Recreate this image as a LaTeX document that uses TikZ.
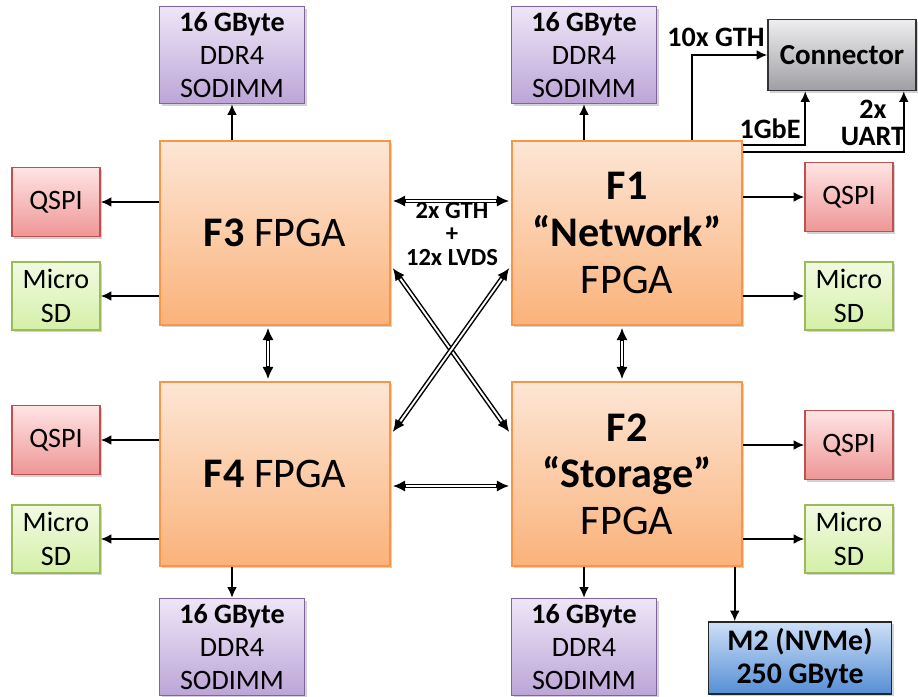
\documentclass[tikz,border=0pt]{standalone}
\usepackage{fontspec}
\setmainfont{Carlito}
\usetikzlibrary{positioning, calc, shadows, arrows.meta}
\definecolor{fpgatop}{RGB}{253,230,213}
\definecolor{fpgabot}{RGB}{250,178,122}
\definecolor{fpgaline}{RGB}{247,150,70}
\definecolor{qspitop}{RGB}{255,228,228}
\definecolor{qspibot}{RGB}{238,150,150}
\definecolor{qspiline}{RGB}{192,80,77}
\definecolor{sdtop}{RGB}{242,250,225}
\definecolor{sdbot}{RGB}{212,240,168}
\definecolor{sdline}{RGB}{155,187,89}
\definecolor{ddrtop}{RGB}{238,230,247}
\definecolor{ddrbot}{RGB}{188,165,215}
\definecolor{ddrline}{RGB}{128,100,162}
\definecolor{conntop}{RGB}{238,238,240}
\definecolor{connbot}{RGB}{158,158,164}
\definecolor{m2top}{RGB}{205,224,247}
\definecolor{m2bot}{RGB}{85,142,213}
\tikzset{
x=0.02cm, y=-0.02cm, % pixel grid of the picture
box/.style={draw, line width=0.9pt, align=center, inner sep=1pt, drop shadow={shadow xshift=1.2pt, shadow yshift=-1.2pt, opacity=0.35}}, % common look of all blocks
fpga/.style={box, draw=fpgaline, top color=fpgatop, bottom color=fpgabot, minimum width=4.6cm, minimum height=3.68cm, font=\fontsize{24}{26.5}\selectfont}, % the four FPGAs
qspi/.style={box, draw=qspiline, top color=qspitop, bottom color=qspibot, minimum width=1.76cm, minimum height=1.38cm, font=\fontsize{16}{19}\selectfont},
sd/.style={box, draw=sdline, top color=sdtop, bottom color=sdbot, minimum width=1.76cm, minimum height=1.36cm, font=\fontsize{16}{19}\selectfont},
ddr/.style={box, draw=ddrline, top color=ddrtop, bottom color=ddrbot, minimum width=2.9cm, minimum height=1.94cm, font=\fontsize{16}{19}\selectfont},
arr/.style={-{Latex[length=6pt, width=5.5pt]}, line width=0.9pt}, % single arrows
link/.style={{Latex[length=7pt, width=6.5pt]}-{Latex[length=7pt, width=6.5pt]}, line width=2.8pt, postaction={draw=white, line width=1.1pt, arrows=-, shorten <=7.5pt, shorten >=7.5pt}}, % double links between FPGAs
lbl/.style={font=\fontsize{16}{15.3}\selectfont\bfseries, align=center, inner sep=0pt},
}
\begin{document}
\begin{tikzpicture}
\useasboundingbox (0,0) rectangle (918,696);

% FPGAs
\node[fpga] (f3) at (275,233) {\textbf{F3} FPGA};
\node[fpga] (f1) at (627,233) {\textbf{F1}\\\textbf{“Network”}\\FPGA};
\node[fpga] (f4) at (275,474) {\textbf{F4} FPGA};
\node[fpga] (f2) at (627,474) {\textbf{F2}\\\textbf{“Storage”}\\FPGA};

% memories
\node[ddr] (ddr3) at (232,55) {\textbf{16 GByte}\\DDR4\\SODIMM};
\node[ddr] (ddr1) at (584,55) {\textbf{16 GByte}\\DDR4\\SODIMM};
\node[ddr] (ddr4) at (232,647) {\textbf{16 GByte}\\DDR4\\SODIMM};
\node[ddr] (ddr2) at (584,647) {\textbf{16 GByte}\\DDR4\\SODIMM};

% flash and cards
\node[qspi] (qspi3) at (56,202) {QSPI};
\node[sd] (sd3) at (56,296) {Micro\\SD};
\node[qspi] (qspi4) at (56,440) {QSPI};
\node[sd] (sd4) at (56,539) {Micro\\SD};
\node[qspi] (qspi1) at (849,197) {QSPI};
\node[sd] (sd1) at (849,296) {Micro\\SD};
\node[qspi] (qspi2) at (849,445) {QSPI};
\node[sd] (sd2) at (849,539) {Micro\\SD};

% connector and ssd
\node[box, draw=black!80, top color=conntop, bottom color=connbot, minimum width=2.96cm, minimum height=1.42cm, font=\fontsize{16.5}{18}\selectfont\bfseries] (conn) at (842,55) {Connector};
\node[box, draw=black!85, top color=m2top, bottom color=m2bot, minimum width=3.66cm, minimum height=1.44cm, font=\fontsize{17}{19}\selectfont\bfseries] (m2) at (800,658) {M2 (NVMe)\\250 GByte};

% memory arrows
\draw[arr] (f3.north -| ddr3.south) -- (ddr3.south);
\draw[arr] (f1.north -| ddr1.south) -- (ddr1.south);
\draw[arr] (f4.south -| ddr4.north) -- (ddr4.north);
\draw[arr] (f2.south -| ddr2.north) -- (ddr2.north);
\coordinate (m2tip) at ($(m2.north west)+(27,0)$);
\draw[arr] (f2.south -| m2tip) -- (m2tip);

% side arrows
\draw[arr] (f3.west |- qspi3.east) -- (qspi3.east);
\draw[arr] (f3.west |- sd3.east) -- (sd3.east);
\draw[arr] (f4.west |- qspi4.east) -- (qspi4.east);
\draw[arr] (f4.west |- sd4.east) -- (sd4.east);
\draw[arr] (f1.east |- qspi1.west) -- (qspi1.west);
\draw[arr] (f1.east |- sd1.west) -- (sd1.west);
\draw[arr] (f2.east |- qspi2.west) -- (qspi2.west);
\draw[arr] (f2.east |- sd2.west) -- (sd2.west);

% FPGA links
\draw[link] ($(f3.east)+(2,-32)$) -- ($(f1.west)+(-2,-32)$);
\draw[link] ($(f4.east)+(2,12)$) -- ($(f2.west)+(-2,12)$);
\draw[link] ($(f3.south)+(-7,2)$) -- ($(f4.north)+(-7,-2)$);
\draw[link] ($(f1.south)+(-5,2)$) -- ($(f2.north)+(-5,-2)$);
\draw[link] ($(f3.east)+(2,35)$) -- ($(f2.west)+(-2,-42)$);
\draw[link] ($(f1.west)+(-2,35)$) -- ($(f4.east)+(2,-42)$);
\node[lbl, font=\fontsize{14}{13.5}\selectfont\bfseries] (lvds) at (452,234) {2x GTH\\+\\12x LVDS};

% connector links
\coordinate (gth) at ($(f1.north west)+(181,0)$);
\draw[arr] (gth) |- (conn.west);
\node[lbl] (gthlbl) at (716,37) {10x GTH};
\draw[arr] ($(f1.north east)+(0,5)$) -| ($(conn.south west)+(38,0)$);
\node[lbl] (gbelbl) at (770,129) {1GbE};
\draw[arr] ($(f1.north east)+(0,12)$) -| ($(conn.south east)+(-13,0)$);
\node[lbl] (uartlbl) at (873,123) {2x\\UART};
\end{tikzpicture}
\end{document}
